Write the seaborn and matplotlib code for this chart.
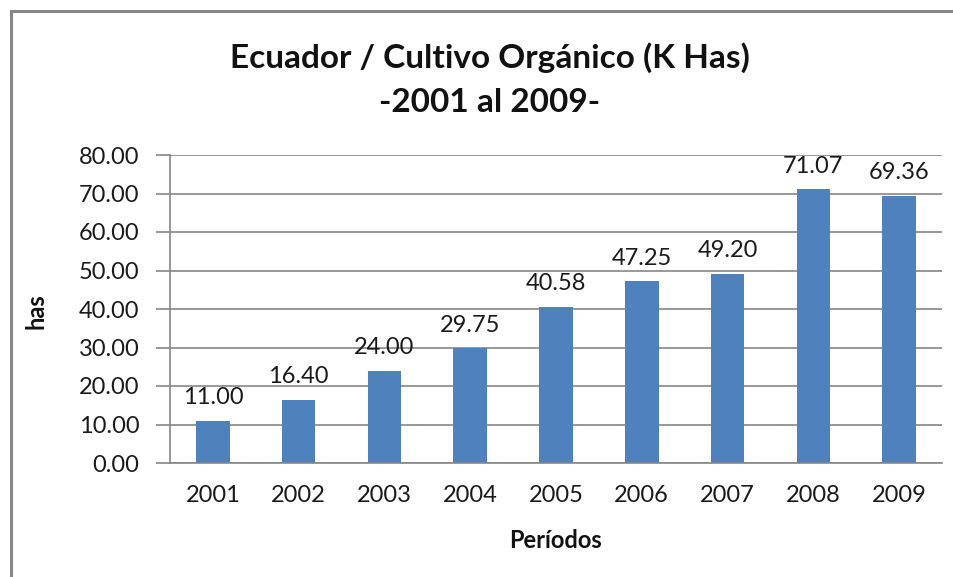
import matplotlib
matplotlib.use("Agg")
import matplotlib.pyplot as plt
import seaborn as sns
import pandas as pd
from matplotlib.patches import Rectangle

years = ["2001", "2002", "2003", "2004", "2005", "2006", "2007", "2008", "2009"]
values = [11.00, 16.40, 24.00, 29.75, 40.58, 47.25, 49.20, 71.07, 69.36]
yticks = [0, 10, 20, 30, 40, 50, 60, 70, 80]

sns.set_theme(style="white")
plt.rcParams['font.family'] = ['Lato', 'DejaVu Sans']

df = pd.DataFrame({"year": years, "value": values})

W, H = 954, 577
fig = plt.figure(figsize=(W/100, H/100), dpi=100)
ax = fig.add_axes([170/W, 1-463/H, (942-170)/W, (463-155)/H])

sns.barplot(data=df, x="year", y="value", color="#4F81BD", saturation=1,
            width=0.39, ax=ax, edgecolor="none")

ax.set_ylim(0, 80)
ax.set_xlim(-0.5, len(years)-0.5)
ax.set_yticks(yticks)
ax.set_yticklabels([f"{v:.2f}" for v in yticks], fontsize=17, color="#1a1a1a")
ax.tick_params(axis="x", labelsize=17, colors="#1a1a1a", length=0, pad=16)
ax.tick_params(axis="y", length=10, width=1.2, color="#868686", pad=12, left=True)
ax.yaxis.grid(True, color="#868686", linewidth=1.2)
ax.set_axisbelow(True)
for s in ["top", "right"]:
    ax.spines[s].set_visible(False)
ax.spines["left"].set_color("#868686")
ax.spines["left"].set_linewidth(1.2)
ax.spines["bottom"].set_color("#868686")
ax.spines["bottom"].set_linewidth(1.2)

for i, v in enumerate(values):
    ax.annotate(f"{v:.2f}", (i, v), xytext=(0, 9), textcoords="offset points",
                ha="center", va="bottom", fontsize=17, color="#1a1a1a")

ax.set_xlabel("Períodos", fontsize=17, fontweight="bold", color="#111111")
ax.xaxis.set_label_coords(556/W, 1-540/H, transform=fig.transFigure)
ax.xaxis.label.set_va("center")
ax.set_ylabel("has", fontsize=17, fontweight="bold", color="#111111")
ax.yaxis.set_label_coords(36/W, 1-311/H, transform=fig.transFigure)
ax.yaxis.label.set_va("center")

fig.text(490/W, 1-58/H, "Ecuador / Cultivo Orgánico (K Has)",
         ha="center", va="center", fontsize=24, fontweight="bold", color="#111111")
fig.text(490/W, 1-102/H, "-2001 al 2009-",
         ha="center", va="center", fontsize=24, fontweight="bold", color="#111111")

# outer frame
fig.patches.append(Rectangle((11/W, -0.1), 1.2, 1 - 11/H + 0.1, transform=fig.transFigure,
                             fill=False, edgecolor="#868686", linewidth=2.2))

fig.savefig("out.png", dpi=100)
